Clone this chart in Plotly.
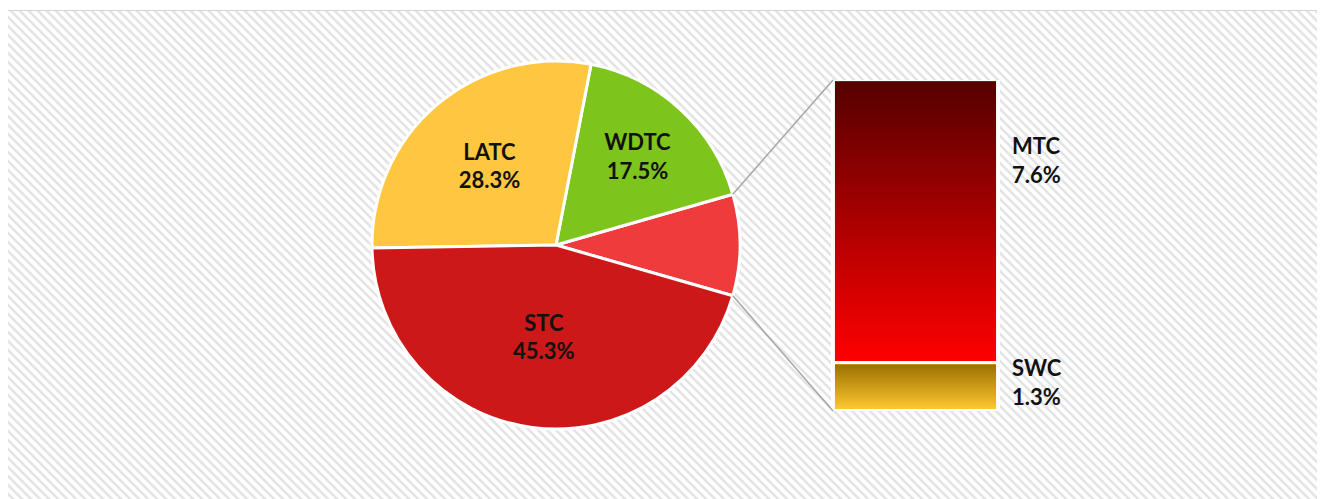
import base64
import math
import plotly.graph_objects as go

# ---------------- data ----------------
pie_labels = ["Other", "WDTC", "LATC", "STC"]
pie_values = [8.9, 17.5, 28.3, 45.3]
pie_colors = ["#ef3b3b", "#7dc41c", "#ffc640", "#cc1818"]

bar_labels = ["SWC", "MTC"]
bar_values = [1.3, 7.6]
bar_colors = ["#d49e1e", "#b40000"]
bar_gradients = [("#9a7000", "#ffc830"), ("#560000", "#ff0000")]

# ---------------- layout constants ----------------
W, H = 1325, 499
OFF = 8  # page body margin offset
PCX, PCY, PR = 556 - OFF, 245 - OFF, 184
pie_dom_x = [(PCX - PR) / W, (PCX + PR) / W]
pie_dom_y = [1 - (PCY + PR) / H, 1 - (PCY - PR) / H]
BX0, BX1, BY0, BY1 = 833 - OFF, 998 - OFF, 80 - OFF, 411 - OFF
bw = BX1 - BX0
bar_dom_x = [(BX0 - bw / 2) / W, (BX1 + bw / 2) / W]
bar_dom_y = [1 - BY1 / H, 1 - BY0 / H]
FONT = "Lato"
FSIZE = 22
BAR_LINE = 3.5

total = sum(pie_values)
other = sum(bar_values)
pie_text = ["" if lab == "Other" else f"<b>{lab}<br>{val:.1f}%</b>"
            for lab, val in zip(pie_labels, pie_values)]
half_angle = other / total * 360 / 2


def svg_uri(s):
    return "data:image/svg+xml;base64," + base64.b64encode(s.encode()).decode()


# ---------------- background pattern ----------------
svg = f'''<svg xmlns="http://www.w3.org/2000/svg" width="{W}" height="{H}" viewBox="0 0 {W} {H}">
<defs><pattern id="p" width="9" height="9" patternUnits="userSpaceOnUse">
<rect width="9" height="9" fill="#ffffff"/>
<path d="M-3,-3 L12,12 M-3,6 L3,12 M6,-3 L12,3" stroke="#e4e4e4" stroke-width="2.6"/>
</pattern></defs>
<rect x="0" y="0" width="{W}" height="{H}" fill="#ffffff"/>
<rect x="0" y="{11 - OFF}" width="{W}" height="{H}" fill="url(#p)"/>
<line x1="0" y1="{10.5 - OFF}" x2="{W}" y2="{10.5 - OFF}" stroke="#d4d4d4" stroke-width="1"/>
</svg>'''
images = [dict(source=svg_uri(svg), xref="paper", yref="paper", x=0, y=1, sizex=1, sizey=1,
               xanchor="left", yanchor="top", sizing="stretch", layer="below")]

fig = go.Figure()

fig.add_trace(go.Pie(
    labels=pie_labels,
    values=pie_values,
    text=pie_text,
    textinfo="text",
    textposition="inside",
    insidetextorientation="horizontal",
    textfont=dict(family=FONT, size=FSIZE, color="#111111"),
    marker=dict(colors=pie_colors, line=dict(color="#ffffff", width=3)),
    sort=False,
    direction="counterclockwise",
    rotation=90 - half_angle,
    domain=dict(x=pie_dom_x, y=pie_dom_y),
    showlegend=False,
    hoverinfo="label+value",
))

for lab, val, col in zip(bar_labels, bar_values, bar_colors):
    fig.add_trace(go.Bar(
        x=[0], y=[val], name=lab, width=1,
        marker=dict(color=col, line=dict(color="#ffffff", width=BAR_LINE)),
        showlegend=False, hoverinfo="name+y",
    ))

# gradient overlays on the bar segments (positioned from the bar data)
px_per_x = (bar_dom_x[1] - bar_dom_x[0]) * W / 2.0
px_per_y = (bar_dom_y[1] - bar_dom_y[0]) * H / other
ins = BAR_LINE / 2
cum = 0
for val, (c0, c1) in zip(bar_values, bar_gradients):
    g = f'''<svg xmlns="http://www.w3.org/2000/svg" width="100" height="100" viewBox="0 0 100 100" preserveAspectRatio="none">
<defs><linearGradient id="g" x1="0" y1="0" x2="0" y2="1">
<stop offset="0" stop-color="{c0}"/><stop offset="1" stop-color="{c1}"/></linearGradient></defs>
<rect width="100" height="100" fill="url(#g)"/></svg>'''
    images.append(dict(
        source=svg_uri(g), xref="x", yref="y",
        x=-0.5 + ins / px_per_x, y=cum + val - ins / px_per_y,
        sizex=1 - 2 * ins / px_per_x, sizey=val - 2 * ins / px_per_y,
        xanchor="left", yanchor="top", sizing="stretch", layer="above",
    ))
    cum += val

# bar labels
annotations = []
cum = 0
shifts = {"MTC": -80, "SWC": 5}
for lab, val in zip(bar_labels, bar_values):
    ypos = cum + val if lab == "MTC" else cum + val / 2
    annotations.append(dict(
        x=0.5, y=ypos, xref="x", yref="y", xanchor="left", yanchor="middle",
        xshift=12, yshift=shifts[lab], showarrow=False, align="left",
        text=f"<b>{lab}<br>{val:.1f}%</b>",
        font=dict(family=FONT, size=FSIZE, color="#111111"),
    ))
    cum += val

# connector lines (pie "Other" slice edge -> bar corners)
cx = (pie_dom_x[0] + pie_dom_x[1]) / 2 * W
cy = H - (pie_dom_y[0] + pie_dom_y[1]) / 2 * H
r = min((pie_dom_x[1] - pie_dom_x[0]) * W, (pie_dom_y[1] - pie_dom_y[0]) * H) / 2
a = math.radians(half_angle)
px = (cx + r * math.cos(a)) / W
py_top = 1 - (cy - r * math.sin(a)) / H
py_bot = 1 - (cy + r * math.sin(a)) / H
bar_left = bar_dom_x[0] + (bar_dom_x[1] - bar_dom_x[0]) * 0.25
shapes = [
    dict(type="line", xref="paper", yref="paper", x0=px, y0=py_top, x1=bar_left, y1=bar_dom_y[1],
         line=dict(color="#a6a6a6", width=1.5)),
    dict(type="line", xref="paper", yref="paper", x0=px, y0=py_bot, x1=bar_left, y1=bar_dom_y[0],
         line=dict(color="#a6a6a6", width=1.5)),
]

fig.update_layout(
    width=W, height=H, autosize=False,
    margin=dict(l=0, r=0, t=0, b=0, pad=0),
    paper_bgcolor="#ffffff", plot_bgcolor="rgba(0,0,0,0)",
    barmode="stack", bargap=0,
    xaxis=dict(domain=bar_dom_x, range=[-1, 1], visible=False, fixedrange=True),
    yaxis=dict(domain=bar_dom_y, range=[0, other], visible=False, fixedrange=True),
    images=images,
    annotations=annotations,
    shapes=shapes,
    font=dict(family=FONT),
)

fig.write_html("out.html")
